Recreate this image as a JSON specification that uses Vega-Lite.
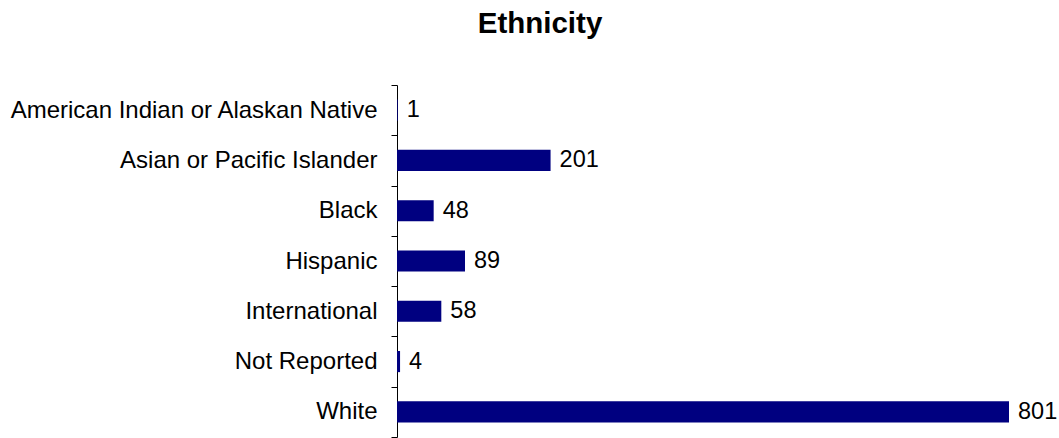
{
  "$schema": "https://vega.github.io/schema/vega-lite/v6.json",
  "autosize": {"type": "none"},
  "padding": {"left": 397, "top": 85, "right": 50, "bottom": 1},
  "width": 612,
  "height": 352,
  "background": "white",
  "title": {
    "text": "Ethnicity",
    "font": "Liberation Sans",
    "fontSize": 29.5,
    "fontWeight": "bold",
    "color": "#000000",
    "anchor": "middle",
    "dx": -163,
    "baseline": "alphabetic",
    "offset": 11
  },
  "data": {
    "values": [
      {"ethnicity": "American Indian or Alaskan Native", "count": 1},
      {"ethnicity": "Asian or Pacific Islander", "count": 201},
      {"ethnicity": "Black", "count": 48},
      {"ethnicity": "Hispanic", "count": 89},
      {"ethnicity": "International", "count": 58},
      {"ethnicity": "Not Reported", "count": 4},
      {"ethnicity": "White", "count": 801}
    ]
  },
  "config": {"view": {"stroke": null}},
  "encoding": {
    "y": {
      "field": "ethnicity",
      "type": "nominal",
      "sort": null,
      "scale": {"paddingInner": 0, "paddingOuter": 0},
      "axis": {
        "title": null,
        "tickBand": "extent",
        "tickSize": 6,
        "tickColor": "#000000",
        "domainColor": "#000000",
        "labelFont": "Liberation Sans",
        "labelFontSize": 24,
        "labelColor": "#000000",
        "labelPadding": 14,
        "labelLimit": 500
      }
    },
    "x": {
      "field": "count",
      "type": "quantitative",
      "scale": {"domain": [0, 801], "nice": false},
      "axis": null
    }
  },
  "layer": [
    {
      "mark": {"type": "bar", "color": "#000080", "height": {"band": 0.42}}
    },
    {
      "mark": {
        "type": "text",
        "align": "left",
        "baseline": "middle",
        "dx": 9,
        "font": "Liberation Sans",
        "fontSize": 23.5,
        "color": "#000000"
      },
      "encoding": {"text": {"field": "count", "type": "quantitative"}}
    }
  ]
}
